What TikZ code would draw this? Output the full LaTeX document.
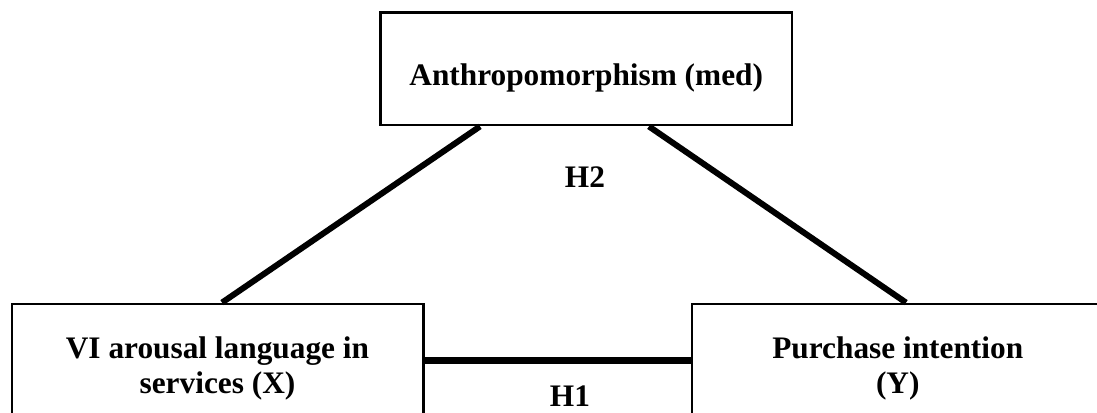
\documentclass[tikz,border=0pt]{standalone}
\usepackage{fontspec}
\setmainfont{Liberation Serif}
\usetikzlibrary{positioning}

\tikzset{
  var/.style={draw, line width=2pt, minimum width=308.5pt, minimum height=84.5pt},
  vartext/.style={align=center, font=\fontsize{23.5}{22}\selectfont\bfseries, yshift=-6pt},
  link/.style={line width=4.5pt},
  hyp/.style={font=\fontsize{23.5}{22}\selectfont\bfseries, anchor=base}
}

\begin{document}
\begin{tikzpicture}[x=0.75pt, y=-0.75pt]
    \useasboundingbox (0,0) rectangle (1097,412);
    \clip (0,0) rectangle (1097,412);

    \node[var, label={[vartext, yshift=-1pt]center:Anthropomorphism (med)}] (med) at (586.25,68.75) {};
    \node[var, label={[vartext]center:VI arousal language in\\[4pt]services (X)}] (iv) at (217.5,360.25) {};
    \node[var, label={[vartext]center:Purchase intention\\[4pt](Y)}] (dv) at (897.75,360.25) {};

    % Edges
    \draw[link] ([xshift=-79.7pt]med.south) -- ([xshift=3.4pt]iv.north);
    \draw[link] ([xshift=47pt]med.south) -- ([xshift=6.2pt]dv.north);
    \draw[link, line width=5.5pt] (iv.east) -- (dv.west);

    % Labels
    \node[hyp] (h2) at (585,187) {H2};
    \node[hyp] (h1) at (570,406) {H1};
\end{tikzpicture}
\end{document}
